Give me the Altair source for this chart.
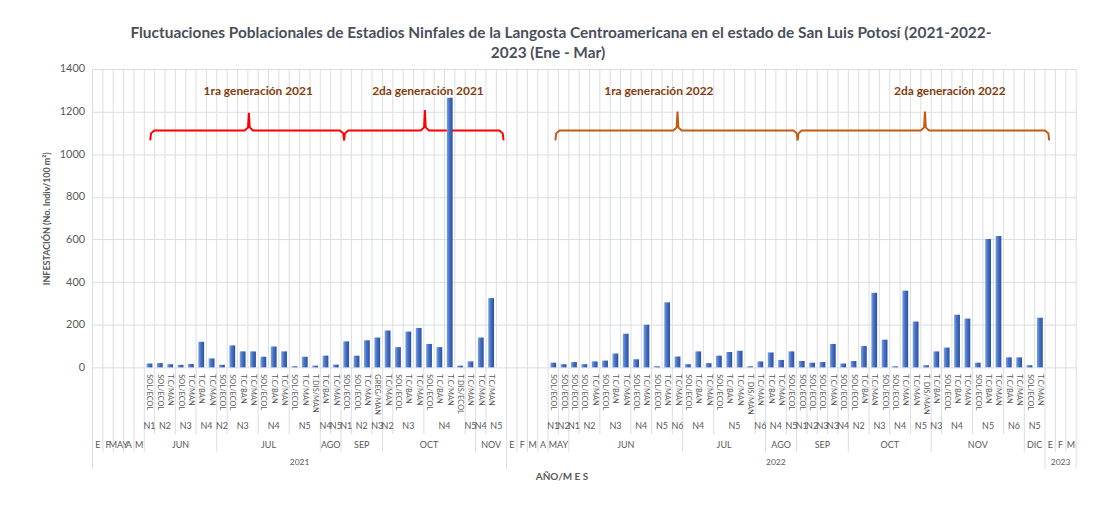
import altair as alt
import pandas as pd

# ---------------- data ----------------
years = ["2021", "2022", "2023"]
year_sizes = [40, 52, 3]

months = ["E", "F", "MAY", "A", "M", "JUN", "JUL", "AGO", "SEP", "OCT", "NOV",
          "E", "F", "M", "A", "MAY", "JUN", "JUL", "AGO", "SEP", "OCT", "NOV", "DIC",
          "E", "F", "M"]
month_sizes = [1, 1, 1, 1, 1, 7, 10, 2, 4, 9, 3,
               1, 1, 1, 1, 2, 11, 8, 3, 5, 8, 9, 2,
               1, 1, 1]

n_labels = ["", "", "", "", "",
            "N1", "N2", "N3", "N4",
            "N2", "N3", "N4", "N5",
            "N4", "N5",
            "N1", "N2", "N3",
            "N2", "N3", "N4", "N5",
            "N4", "N5",
            "", "", "", "",
            "N1", "N2",
            "N1", "N2", "N3", "N4", "N5", "N6",
            "N4", "N5", "N6",
            "N4", "N5",
            "N1", "N2", "N3", "N3", "N4",
            "N2", "N3", "N4", "N5",
            "N3", "N4", "N5", "N6",
            "N5",
            "", "", ""]
n_sizes = [1, 1, 1, 1, 1,
           1, 2, 2, 2,
           1, 3, 3, 3,
           1, 1,
           1, 2, 1,
           1, 3, 4, 1,
           1, 2,
           1, 1, 1, 1,
           1, 1,
           1, 2, 3, 2, 2, 1,
           3, 4, 1,
           2, 1,
           1, 1, 1, 1, 1,
           2, 2, 2, 2,
           1, 3, 3, 2,
           2,
           1, 1, 1]

cat_labels = [
    # 2021
    "", "", "", "", "",
    "SOL/ECOL", "SOL/ECOL", "T.C/MAN", "SOL/ECOL", "T.C/MAN", "T.C/BAN", "T.C/MAN",
    "SOL/ECOL", "SOL/ECOL", "T.C/BAN", "T.C/MAN", "SOL/ECOL", "T.C/BAN", "T.C/MAN",
    "SOL/ECOL", "T.C/MAN", "T.DIS/MAN",
    "T.C/BAN", "T.C/MAN",
    "SOL/ECOL", "SOL/ECOL", "T.C/MAN", "GREG/MAN",
    "T.C/MAN", "SOL/ECOL", "T.C/BAN", "T.C/MAN", "SOL/ECOL", "T.C/BAN", "T.C/MAN",
    "T.DIS/ECOL", "T.C/MAN",
    "T.C/MAN", "T.C/MAN", "",
    # 2022
    "", "", "", "",
    "SOL/ECOL", "SOL/ECOL",
    "SOL/ECOL", "SOL/ECOL", "T.C/MAN", "SOL/ECOL", "T.C/BAN", "T.C/MAN",
    "SOL/ECOL", "T.C/MAN", "SOL/ECOL", "T.C/MAN", "T.C/MAN",
    "SOL/ECOL", "T.C/BAN", "T.C/MAN", "SOL/ECOL", "T.C/BAN", "T.C/MAN", "T. DIS/MAN",
    "T.C/MAN",
    "T.C/BAN", "T.C/MAN", "SOL/ECOL",
    "SOL/ECOL", "SOL/ECOL", "SOL/ECOL", "T.C/MAN", "SOL/ECOL",
    "SOL/ECOL", "T.C/BAN", "T.C/MAN", "SOL/ECOL", "SOL/ECOL", "T.C/MAN",
    "T.C/MAN", "T. DIS/MAN",
    "T.C/BAN", "SOL/ECOL", "T.C/BAN", "T.C/MAN", "SOL/ECOL", "T.C/BAN", "T.C/MAN",
    "T.C/BAN", "T.C/MAN",
    "SOL/ECOL", "T.C/MAN",
    # 2023
    "", "", "",
]

values = [
    # 2021
    None, None, None, None, None,
    18, 20, 15, 12, 16, 120, 42,
    12, 103, 75, 75, 50, 98, 75, 5, 50, 8,
    55, 13,
    122, 55, 127, 140,
    173, 95, 168, 185, 110, 95, 1265, 8, 28,
    140, 325, None,
    # 2022
    None, None, None, None,
    22, 15,
    25, 15, 28, 32, 65, 158, 38, 200, 5, 305, 51,
    15, 75, 20, 55, 72, 78, 5, 28,
    70, 35, 75,
    30, 22, 25, 110, 18,
    30, 100, 350, 130, 5, 360, 215, 10,
    75, 93, 247, 229, 22, 602, 616, 47, 47,
    10, 233,
    # 2023
    None, None, None,
]

gen_labels = ["1ra generación 2021", "2da generación 2021",
              "1ra generación 2022", "2da generación 2022"]
brace_start = [5.57, 24.3, 44.7, 68.1]
brace_end = [24.3, 39.7, 68.1, 92.4]
brace_tip = [15.1, 32.1, 56.5, 80.4]
brace_tip_value = [1195, 1208, 1200, 1200]
brace_color = ["#FF0000", "#FF0000", "#C55A11", "#C55A11"]
gen_label_x = [16.0, 32.4, 54.7, 82.8]

title_1 = ("Fluctuaciones  Poblacionales de Estadios Ninfales de la Langosta "
           "Centroamericana en el estado de San Luis Potosí (2021-2022-")
title_2 = "2023 (Ene - Mar)"

# ---------------- derived tables ----------------
N = len(cat_labels)
FONT = "Lato"
GRAY = "#DADDE3"
TXT = "#595959"


def runs(labels, sizes):
    rows, start = [], 0
    for lab, s in zip(labels, sizes):
        rows.append({"label": lab, "start": start, "end": start + s,
                     "center": start + s / 2})
        start += s
    return pd.DataFrame(rows)


df_year = runs(years, year_sizes)
df_month = runs(months, month_sizes)
df_n = runs(n_labels, n_sizes)

df_cat = pd.DataFrame({"idx": range(N), "label": cat_labels, "value": values})
df_cat["center"] = df_cat["idx"] + 0.5
df_cat["x0"] = df_cat["idx"] + 0.22
df_cat["x1"] = df_cat["idx"] + 0.78
df_cat["zero"] = 0
df_bars = df_cat.dropna(subset=["value"])

year_b = set(df_year["start"]) | set(df_year["end"])
month_b = (set(df_month["start"]) | set(df_month["end"])) - year_b
n_b = (set(df_n["start"]) | set(df_n["end"])) - year_b - month_b
df_yb = pd.DataFrame({"b": sorted(year_b)})
df_mb = pd.DataFrame({"b": sorted(month_b)})
df_nb = pd.DataFrame({"b": sorted(n_b)})
df_grid = pd.DataFrame({"b": list(range(N + 1))})

brace_rows = []
for k in range(len(brace_start)):
    a, m, b = brace_start[k], brace_tip[k], brace_end[k]
    tv = brace_tip_value[k]
    pts = [(a, 1065), (a + 0.08, 1098), (a + 0.4, 1112), (m - 0.4, 1112),
           (m - 0.08, 1126), (m, tv), (m + 0.08, 1126), (m + 0.4, 1112),
           (b - 0.4, 1112), (b - 0.08, 1098), (b, 1065)]
    for j, (px, py) in enumerate(pts):
        brace_rows.append({"brace": k, "ord": j, "bx": px, "by": py,
                           "col": brace_color[k]})
df_brace = pd.DataFrame(brace_rows)
df_gen = pd.DataFrame({"t": gen_labels, "tx": gen_label_x, "ty": [1298] * 4})

# ---------------- chart ----------------
xs = alt.Scale(domain=[0, N], nice=False, zero=False)
ys = alt.Scale(domain=[0, 1400], nice=False)

yaxis = alt.Axis(values=[0, 200, 400, 600, 800, 1000, 1200, 1400], format="d",
                 grid=True, gridColor=GRAY, domain=False, ticks=False,
                 labelColor=TXT, labelFontSize=11, labelFont=FONT, labelPadding=8,
                 title="INFESTACIÓN (No. Indiv/100 m²)", titleFont=FONT,
                 titleFontSize=9, titleFontWeight="bold", titleColor=TXT,
                 titleX=-46, titleY=150, titleAlign="center",
                 titleBaseline="middle", titleAngle=270)

grid = alt.Chart(df_grid).mark_rule(color=GRAY, strokeWidth=1).encode(
    x=alt.X("b:Q", scale=xs, axis=None), y=alt.value(0), y2=alt.value(300))

sep_n = alt.Chart(df_nb).mark_rule(color=GRAY, strokeWidth=1).encode(
    x=alt.X("b:Q", scale=xs, axis=None), y=alt.value(300), y2=alt.value(367))
sep_m = alt.Chart(df_mb).mark_rule(color=GRAY, strokeWidth=1).encode(
    x=alt.X("b:Q", scale=xs, axis=None), y=alt.value(300), y2=alt.value(385))
sep_y = alt.Chart(df_yb).mark_rule(color=GRAY, strokeWidth=1).encode(
    x=alt.X("b:Q", scale=xs, axis=None), y=alt.value(300), y2=alt.value(402))

gradient = alt.Gradient(gradient="linear", x1=0, x2=1, y1=0, y2=0,
                        stops=[alt.GradientStop(color="#7FA2E3", offset=0),
                               alt.GradientStop(color="#4472C4", offset=0.45),
                               alt.GradientStop(color="#2B4F9E", offset=1)])

bars = alt.Chart(df_bars).mark_bar(color=gradient).encode(
    x=alt.X("x0:Q", scale=xs, axis=None), x2="x1:Q",
    y=alt.Y("value:Q", scale=ys, axis=yaxis), y2="zero:Q")

braces = alt.Chart(df_brace).mark_line(strokeWidth=2).encode(
    x=alt.X("bx:Q", scale=xs, axis=None),
    y=alt.Y("by:Q", scale=ys, axis=yaxis),
    detail="brace:N", order="ord:Q",
    color=alt.Color("col:N", scale=None))

gen_text = alt.Chart(df_gen).mark_text(
    font=FONT, fontSize=12, fontWeight="bold", color="#843C0C").encode(
    x=alt.X("tx:Q", scale=xs, axis=None),
    y=alt.Y("ty:Q", scale=ys, axis=yaxis), text="t:N")

cat_text = alt.Chart(df_cat).mark_text(
    font=FONT, fontSize=7.5, color=TXT, angle=90, align="left",
    baseline="middle").encode(
    x=alt.X("center:Q", scale=xs, axis=None), y=alt.value(307), text="label:N")

n_text = alt.Chart(df_n).mark_text(font=FONT, fontSize=9, color=TXT).encode(
    x=alt.X("center:Q", scale=xs, axis=None), y=alt.value(359), text="label:N")
m_text = alt.Chart(df_month).mark_text(font=FONT, fontSize=9, color=TXT).encode(
    x=alt.X("center:Q", scale=xs, axis=None), y=alt.value(378), text="label:N")
y_text = alt.Chart(df_year).mark_text(font=FONT, fontSize=8.5, color=TXT).encode(
    x=alt.X("center:Q", scale=xs, axis=None), y=alt.value(395), text="label:N")

x_title = alt.Chart(pd.DataFrame({"t": ["AÑO/M E S"]})).mark_text(
    font=FONT, fontSize=10, fontWeight="bold", color=TXT).encode(
    x=alt.value(472), y=alt.value(410), text="t:N")

title_df = pd.DataFrame({"t": [title_1, title_2], "px": [471, 458], "py": [-36, -16]})
title = alt.Chart(title_df).mark_text(
    font=FONT, fontSize=15.5, fontWeight="bold", color="#4A4F5C").encode(
    x=alt.X("px:Q", scale=None), y=alt.Y("py:Q", scale=None), text="t:N")

chart = alt.layer(
    grid, sep_n, sep_m, sep_y, braces, gen_text, bars,
    cat_text, n_text, m_text, y_text, x_title, title
).properties(
    width=989, height=300, autosize=alt.AutoSizeParams(type="none"),
    padding={"left": 85, "top": 60, "right": 20, "bottom": 130},
    background="white"
).configure_view(stroke=None)

chart.save("out.html", embed_options={"renderer": "svg", "actions": False})
